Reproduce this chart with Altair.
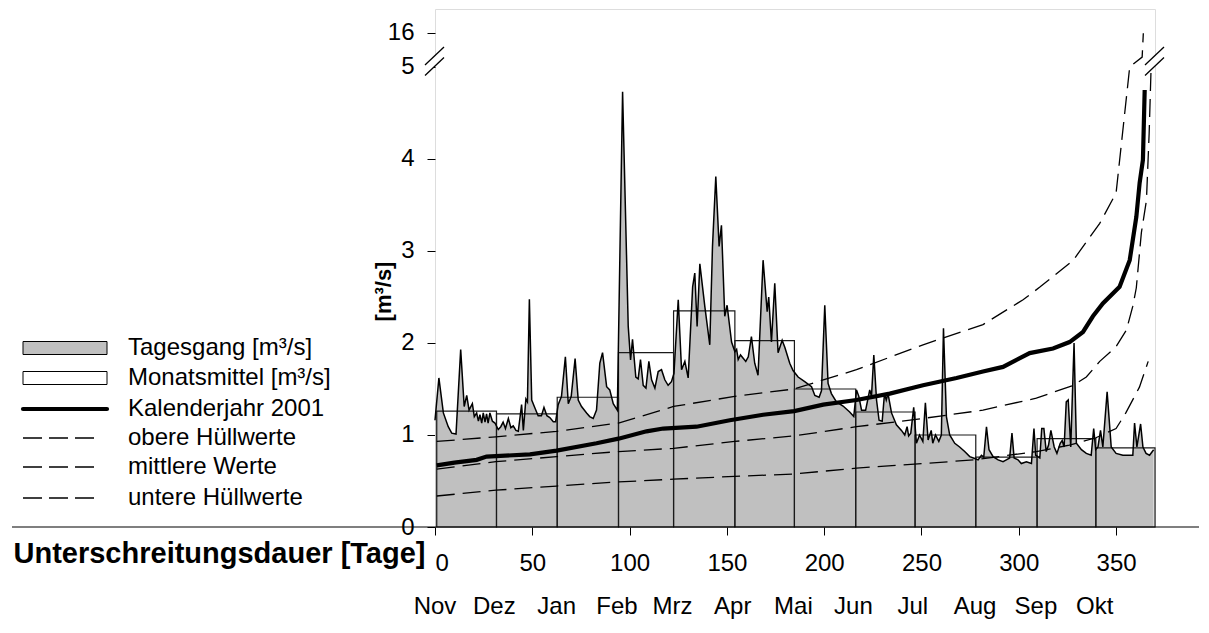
import altair as alt
import pandas as pd

# ---------------- data ----------------
# daily flow (Tagesgang), day of hydrological year vs m³/s
daily_day = [0, 2, 4.3, 6.8, 8.6, 10.8, 13.2, 15, 16.3, 17.5, 19.2, 20.2, 21.4, 22.3, 23.1, 24, 24.8,
             25.7, 26.5, 27.3, 28.2, 29.5, 30.8, 32.5, 33.8, 35, 36.2, 37.7, 39, 40.2, 41.6, 42.8,
             44.5, 45.4, 46.7, 47.5, 48.5, 49.7, 51.4, 53, 54.7, 56, 57.5, 59, 60.8, 62, 63.3, 65,
             67, 68.5, 70, 72, 73.6, 75.3, 77.9, 79.5, 81.3, 83, 84.7, 86.1, 88.2, 89.8, 91.6, 93.7,
             96.4, 99.3, 100.5, 101.5, 103.2, 104.4, 105.6, 107, 108.4, 109.9, 111.3, 113, 114.7,
             116.4, 118.1, 119.8, 121.5, 122.8, 125, 126.7, 128.4, 130.1, 132.4, 133.5, 134.7,
             136.1, 138.7, 141.2, 142.6, 144.3, 146, 147.2, 148.9, 150.1, 152.4, 154.1, 155,
             155.8, 157, 159.7, 161, 162.6, 164.3, 166, 168.6, 170.7, 171.5, 172.9, 174.6, 176.3,
             178.4, 179.8, 182.3, 184, 186.6, 190, 193.5, 195.2, 197.4, 198.6, 200.3, 202, 203.7,
             206.3, 209.7, 213.1, 215.2, 216.6, 217.8, 219.2, 221.3, 223.4, 224.3, 225.5, 226.9,
             228.2, 229.8, 231, 231.9, 232.8, 234.6, 237.1, 239.7, 241.4, 242.6, 243.4, 244.5,
             246, 247.4, 249, 250.7, 252, 253.4, 255, 255.8, 257.2, 258.9, 260.2, 261.3, 262.8,
             264.5, 267.1, 269.6, 272.2, 274.8, 277.4, 279.1, 280.8, 282, 283.4, 284.7, 286.8,
             289.4, 291.9, 293.6, 295.3, 296.5, 297.6, 299.6, 301.3, 303.9, 306.5, 307.8, 308.7,
             310.8, 311.8, 312.9, 314.1, 315.3, 316.5, 318.2, 319.6, 321.3, 322.3, 323.3, 324.4,
             325.4, 326.7, 328.4, 329.6, 332.2, 334.7, 337.2, 338.5, 339.5, 340.7, 342, 343.2,
             345.4, 347.5, 350, 353.5, 356.9, 358.6, 359.5, 360.7, 362.6, 363.8, 365.4, 367.2, 369.3]
daily_val = [1.16, 1.62, 1.24, 1.09, 1.02, 1.01, 1.93, 1.31, 1.43, 1.27, 1.34, 1.2, 1.24, 1.15, 1.22, 1.13, 1.24,
             1.14, 1.23, 1.13, 1.24, 1.15, 1.13, 1.06, 1.09, 1.14, 1.07, 1.18, 1.08, 1.1, 1.05, 1.04,
             1.33, 1.05, 1.39, 1.36, 2.475, 1.38, 1.29, 1.21, 1.21, 1.30, 1.21, 1.19, 1.145, 1.145, 1.33, 1.42,
             1.85, 1.34, 1.42, 1.83, 1.38, 1.31, 1.24, 1.2, 1.18, 1.27, 1.78, 1.895, 1.525, 1.49, 1.34, 1.27,
             4.73, 2.18, 1.815, 2.04, 1.63, 1.61, 1.82, 1.54, 1.51, 1.80, 1.60, 1.51, 1.69,
             1.71, 1.60, 1.54, 1.58, 1.67, 2.47, 1.71, 1.80, 1.62, 2.61, 2.76, 2.18,
             2.86, 2.39, 1.98, 3.05, 3.81, 3.05, 3.28, 2.29, 2.41, 2.01, 1.905, 1.93,
             1.82, 1.87, 1.80, 1.85, 2.07, 1.78, 1.65, 2.90, 2.34, 2.50, 2.01, 2.65, 1.895,
             2.03, 1.95, 1.78, 1.70, 1.63, 1.58, 1.525, 1.43, 1.41, 1.48, 2.41, 1.56, 1.45,
             1.36, 1.315, 1.25, 1.2, 1.49, 1.42, 1.27, 1.27, 1.49, 1.42, 1.87, 1.38,
             1.16, 1.15, 1.45, 1.38, 1.45, 1.24, 1.11, 1.05, 1.0, 1.09, 0.99, 1.02,
             1.30, 0.91, 1.0, 0.93, 1.35, 0.945, 1.05, 0.91, 1.0, 0.93, 1.0, 2.16, 1.2,
             1.0, 0.91, 0.87, 0.82, 0.765, 0.745, 0.73, 0.78, 0.76, 1.09, 0.84, 0.765,
             0.73, 0.71, 0.73, 0.75, 1.02, 0.75, 0.73, 0.69, 0.71, 0.69, 1.07, 0.78,
             0.75, 1.07, 1.07, 0.82, 0.89, 1.05, 0.87, 0.80, 0.91, 0.94, 0.87, 1.36,
             1.38, 0.87, 2.0, 0.91, 0.84, 0.80, 0.78, 1.07, 0.84, 0.87, 1.05, 0.87,
             1.47, 0.87, 0.80, 0.78, 0.78, 0.78, 1.13, 0.87, 1.12, 0.87, 0.80, 0.78, 0.84]

# monthly means (Monatsmittel)
month_names = ["Nov", "Dez", "Jan", "Feb", "Mrz", "Apr", "Mai", "Jun", "Jul", "Aug", "Sep", "Okt"]
month_start = [0.9, 31.6, 62.8, 94.3, 122.6, 154.1, 184.7, 216.2, 246.7, 277.9, 309.4, 339.6]
month_end = [31.6, 62.8, 94.3, 122.6, 154.1, 184.7, 216.2, 246.7, 277.9, 309.4, 339.6, 370.0]
month_mean = [1.26, 1.23, 1.41, 1.895, 2.35, 2.025, 1.50, 1.25, 1.0, 0.76, 0.96, 0.86]
month_label_day = [0, 30.5, 62.5, 93.5, 122, 153, 184.2, 215, 245.5, 277.5, 308.8, 339]

# duration curve calendar year 2001
kj_day = [0.9, 10, 21.4, 26.5, 48.8, 62.5, 83, 94.3, 108.7, 117.3, 134.4, 151.5, 168.6, 184.6, 199.5,
          216.6, 233.7, 250.8, 268, 281.6, 291.9, 305.6, 317.6, 326.1, 333, 338.1, 343.2, 351.8, 357,
          360.4, 362.1, 363.8, 364.7]
kj_val = [0.67, 0.70, 0.73, 0.765, 0.79, 0.83, 0.91, 0.96, 1.04, 1.07, 1.09, 1.16, 1.22, 1.26, 1.33,
          1.38, 1.45, 1.54, 1.62, 1.69, 1.74, 1.89, 1.94, 2.01, 2.12, 2.29, 2.43, 2.61, 2.9,
          3.37, 3.74, 3.99, 4.75]

# envelopes
ob_day = [0.9, 31.3, 62.5, 94.3, 122.6, 154, 184.6, 216.6, 250.8, 281.6, 302.2, 311, 328, 341.6, 350, 357, 363.4, 364]
ob_val = [0.93, 0.98, 1.04, 1.13, 1.31, 1.42, 1.50, 1.71, 1.98, 2.2, 2.47, 2.61, 2.9, 3.3, 3.63, 5.0, 8.2, 15.9]
mi_day = [0.9, 31.3, 62.5, 94.3, 122.6, 154, 184.6, 216.6, 250.8, 281.6, 300.5, 309, 328, 334.7, 341.6,
          350, 355.3, 358.6, 360.4, 363, 365.6, 367, 368]
mi_val = [0.63, 0.71, 0.765, 0.82, 0.855, 0.93, 0.99, 1.09, 1.18, 1.27, 1.36, 1.40, 1.54, 1.63, 1.80,
          1.96, 2.14, 2.4, 2.6, 3.2, 3.55, 4.28, 5.0]
un_day = [0.9, 31.3, 62.5, 94.3, 122.6, 154, 184.6, 216.6, 250.8, 277.4, 309, 326, 339.6, 350, 355, 362, 366.5]
un_val = [0.337, 0.40, 0.445, 0.49, 0.52, 0.55, 0.576, 0.64, 0.69, 0.73, 0.82, 0.89, 0.97, 1.07, 1.24, 1.52, 1.80]

x_ticks = [0, 50, 100, 150, 200, 250, 300, 350]
legend_labels = ["Tagesgang [m³/s]", "Monatsmittel [m³/s]", "Kalenderjahr 2001",
                 "obere Hüllwerte", "mittlere Werte", "untere Hüllwerte"]

# ---------------- broken y axis (5 ... 16) ----------------
BREAK_LO, BREAK_HI, UPPER_SPAN = 5.0, 16.0, 0.37


def brk(v):
    return v if v <= BREAK_LO else BREAK_LO + (v - BREAK_LO) * UPPER_SPAN / (BREAK_HI - BREAK_LO)


Y16 = brk(16.0)
W, H = 720, 518
FONT = "Liberation Sans"

xs = alt.Scale(domain=[0, 370], nice=False)
ys = alt.Scale(domain=[0, 5.63], nice=False)


def series(days, vals):
    return pd.DataFrame({"day": days, "p": [brk(v) for v in vals]})


daily = series(daily_day, daily_val)
months = pd.DataFrame({"start": month_start, "end": month_end, "p": month_mean})
mlab = pd.DataFrame({"day": month_label_day, "name": month_names})

x_enc = alt.X("day:Q", scale=xs, axis=alt.Axis(
    values=x_ticks, grid=False, domain=False, tickSize=8, tickColor="black", tickWidth=1,
    labelFontSize=24, labelPadding=16, labelColor="black", labelFont=FONT,
    title="Unterschreitungsdauer [Tage]", titleFontSize=29, titleFontWeight="bold",
    titleFont=FONT, titleColor="black", titleX=-10, titleY=35, titleAlign="right",
    titleBaseline="alphabetic"))
y_enc = alt.Y("p:Q", scale=ys, axis=alt.Axis(
    values=[0, 1, 2, 3, 4, 5, Y16], grid=False, domain=False, tickSize=8, tickColor="black",
    labelFontSize=24, labelPadding=13, labelColor="black", labelFont=FONT,
    labelExpr="datum.value > 5.1 ? '16' : format(datum.value, 'd')",
    title="[m³/s]", titleFontSize=22, titleFontWeight="bold", titleFont=FONT,
    titleColor="black", titleX=-52, titleY=282, titleAngle=270, titleAlign="center",
    titleBaseline="middle"))

area = alt.Chart(daily).mark_area(color="#c0c0c0").encode(x=x_enc, y=y_enc)
boxes = alt.Chart(months).mark_rect(fill=None, stroke="#1a1a1a", strokeWidth=1.2).encode(
    x=alt.X("start:Q", scale=xs), x2="end:Q", y=alt.Y("p:Q", scale=ys), y2=alt.datum(0))
dline = alt.Chart(daily).mark_line(color="black", strokeWidth=1.5).encode(
    x=alt.X("day:Q", scale=xs), y=alt.Y("p:Q", scale=ys))

DASH = [18, 8]


def curve(days, vals, width, dash=None):
    kw = dict(color="black", strokeWidth=width)
    if dash:
        kw["strokeDash"] = dash
    return alt.Chart(series(days, vals)).mark_line(**kw).encode(
        x=alt.X("day:Q", scale=xs), y=alt.Y("p:Q", scale=ys))


c_ob = curve(ob_day, ob_val, 1.3, DASH)
c_mi = curve(mi_day, mi_val, 1.3, DASH)
c_un = curve(un_day, un_val, 1.3, DASH)
c_kj = curve(kj_day, kj_val, 4.2)

mtext = alt.Chart(mlab).mark_text(fontSize=24, font=FONT, baseline="alphabetic", color="black").encode(
    x=alt.X("day:Q", scale=xs), y=alt.value(605), text="name:N")

one = pd.DataFrame({"k": [0]})
deco = []
# extended x baseline
deco.append(alt.Chart(one).mark_rule(color="black", strokeWidth=1.2).encode(
    x=alt.value(-423), x2=alt.value(764), y=alt.value(H), y2=alt.value(H)))
# axis break marks (left and right frame)
for bx in (0, W):
    deco.append(alt.Chart(one).mark_rule(color="white", strokeWidth=7).encode(
        x=alt.value(bx - 9), y=alt.value(61), x2=alt.value(bx + 9), y2=alt.value(43)))
    for dy in (0, 10.5):
        deco.append(alt.Chart(one).mark_rule(color="black", strokeWidth=1.3).encode(
            x=alt.value(bx - 10), y=alt.value(56 + dy), x2=alt.value(bx + 9), y2=alt.value(38 + dy)))

# manual legend
LX0, LX1, LT = -412, -328, -307
rows = [339, 369, 400, 429, 458, 489]
leg = []
leg.append(alt.Chart(one).mark_rect(fill="#c0c0c0", stroke="black", strokeWidth=1).encode(
    x=alt.value(LX0), x2=alt.value(LX1), y=alt.value(rows[0] - 6.5), y2=alt.value(rows[0] + 6.5)))
leg.append(alt.Chart(one).mark_rect(fill="white", stroke="black", strokeWidth=1).encode(
    x=alt.value(LX0), x2=alt.value(LX1), y=alt.value(rows[1] - 6.5), y2=alt.value(rows[1] + 6.5)))
leg.append(alt.Chart(one).mark_rule(color="black", strokeWidth=4.2, strokeCap="round").encode(
    x=alt.value(LX0), x2=alt.value(LX1), y=alt.value(rows[2]), y2=alt.value(rows[2])))
for r in rows[3:]:
    leg.append(alt.Chart(one).mark_rule(color="black", strokeWidth=1.3, strokeDash=[19, 7]).encode(
        x=alt.value(LX0), x2=alt.value(LX0 + 77), y=alt.value(r), y2=alt.value(r)))
for lab, r in zip(legend_labels, rows):
    leg.append(alt.Chart(one).mark_text(align="left", baseline="middle", fontSize=24, font=FONT,
                                         color="black").encode(
        x=alt.value(LT), y=alt.value(r), text=alt.value(lab)))

chart = alt.layer(area, boxes, dline, c_un, c_mi, c_ob, c_kj, mtext, *deco, *leg).properties(
    width=W, height=H,
    autosize=alt.AutoSizeParams(type="none"),
    padding={"left": 427, "top": 1, "right": 46, "bottom": 100},
).configure_view(stroke="black", strokeWidth=1.2).configure(font=FONT)

chart.save("out.html", embed_options={"renderer": "svg", "actions": False})
